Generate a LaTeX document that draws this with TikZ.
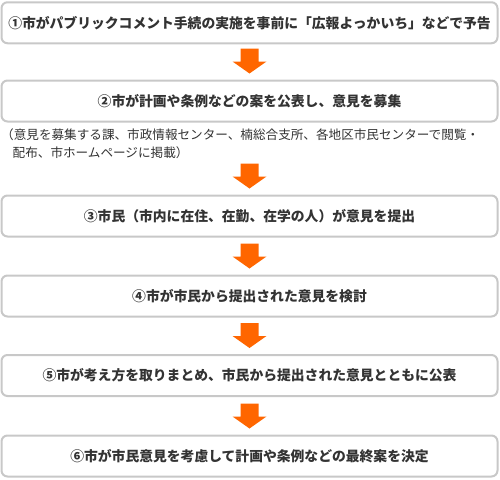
\documentclass[tikz,border=0pt]{standalone}
\usepackage{fontspec}
\newfontfamily\jp{Noto Sans CJK JP}
\usetikzlibrary{calc}
\definecolor{boxline}{HTML}{C8C8C8}
\definecolor{txt}{HTML}{333333}
\definecolor{arrowc}{HTML}{FF6600}
\begin{document}
\begin{tikzpicture}[x=1pt,y=-1pt,
  stepbox/.style={draw=boxline, line width=2pt, rounded corners=6pt, fill=white,
    minimum width=496pt, minimum height=41pt, inner sep=0pt,
    font=\jp\bfseries\fontsize{13.8pt}{16pt}\selectfont, text=txt},
  note/.style={anchor=west, inner sep=0pt, text=txt,
    font=\jp\fontsize{12.6pt}{15pt}\selectfont},
  arrowfill/.style={fill=arrowc}]
\useasboundingbox (0,0) rectangle (500,479);
\newcommand{\downarrowto}[1]{%
  \fill[arrowfill] ($(#1.north)+(0,-6)$) -- ++(-17,-12) -- ++(8,0) -- ++(0,-13)
    -- ++(18,0) -- ++(0,13) -- ++(8,0) -- cycle;}
\node[stepbox] (b1) at (249.5,22.75) {①市がパブリックコメント手続の実施を事前に「広報よっかいち」などで予告};
\node[stepbox] (b2) at (249.5,101) {②市が計画や条例などの案を公表し、意見を募集};
\node[note] (n1) at (1,135) {（意見を募集する課、市政情報センター、楠総合支所、各地区市民センターで閲覧・};
\node[note] (n2) at (12.5,153) {配布、市ホームページに掲載）};
\node[stepbox] (b3) at (249.5,216) {③市民（市内に在住、在勤、在学の人）が意見を提出};
\node[stepbox] (b4) at (249.5,296) {④市が市民から提出された意見を検討};
\node[stepbox] (b5) at (249.5,375.5) {⑤市が考え方を取りまとめ、市民から提出された意見とともに公表};
\node[stepbox] (b6) at (249.5,456) {⑥市が市民意見を考慮して計画や条例などの最終案を決定};
\downarrowto{b2}
\downarrowto{b3}
\downarrowto{b4}
\downarrowto{b5}
\downarrowto{b6}
\end{tikzpicture}
\end{document}
